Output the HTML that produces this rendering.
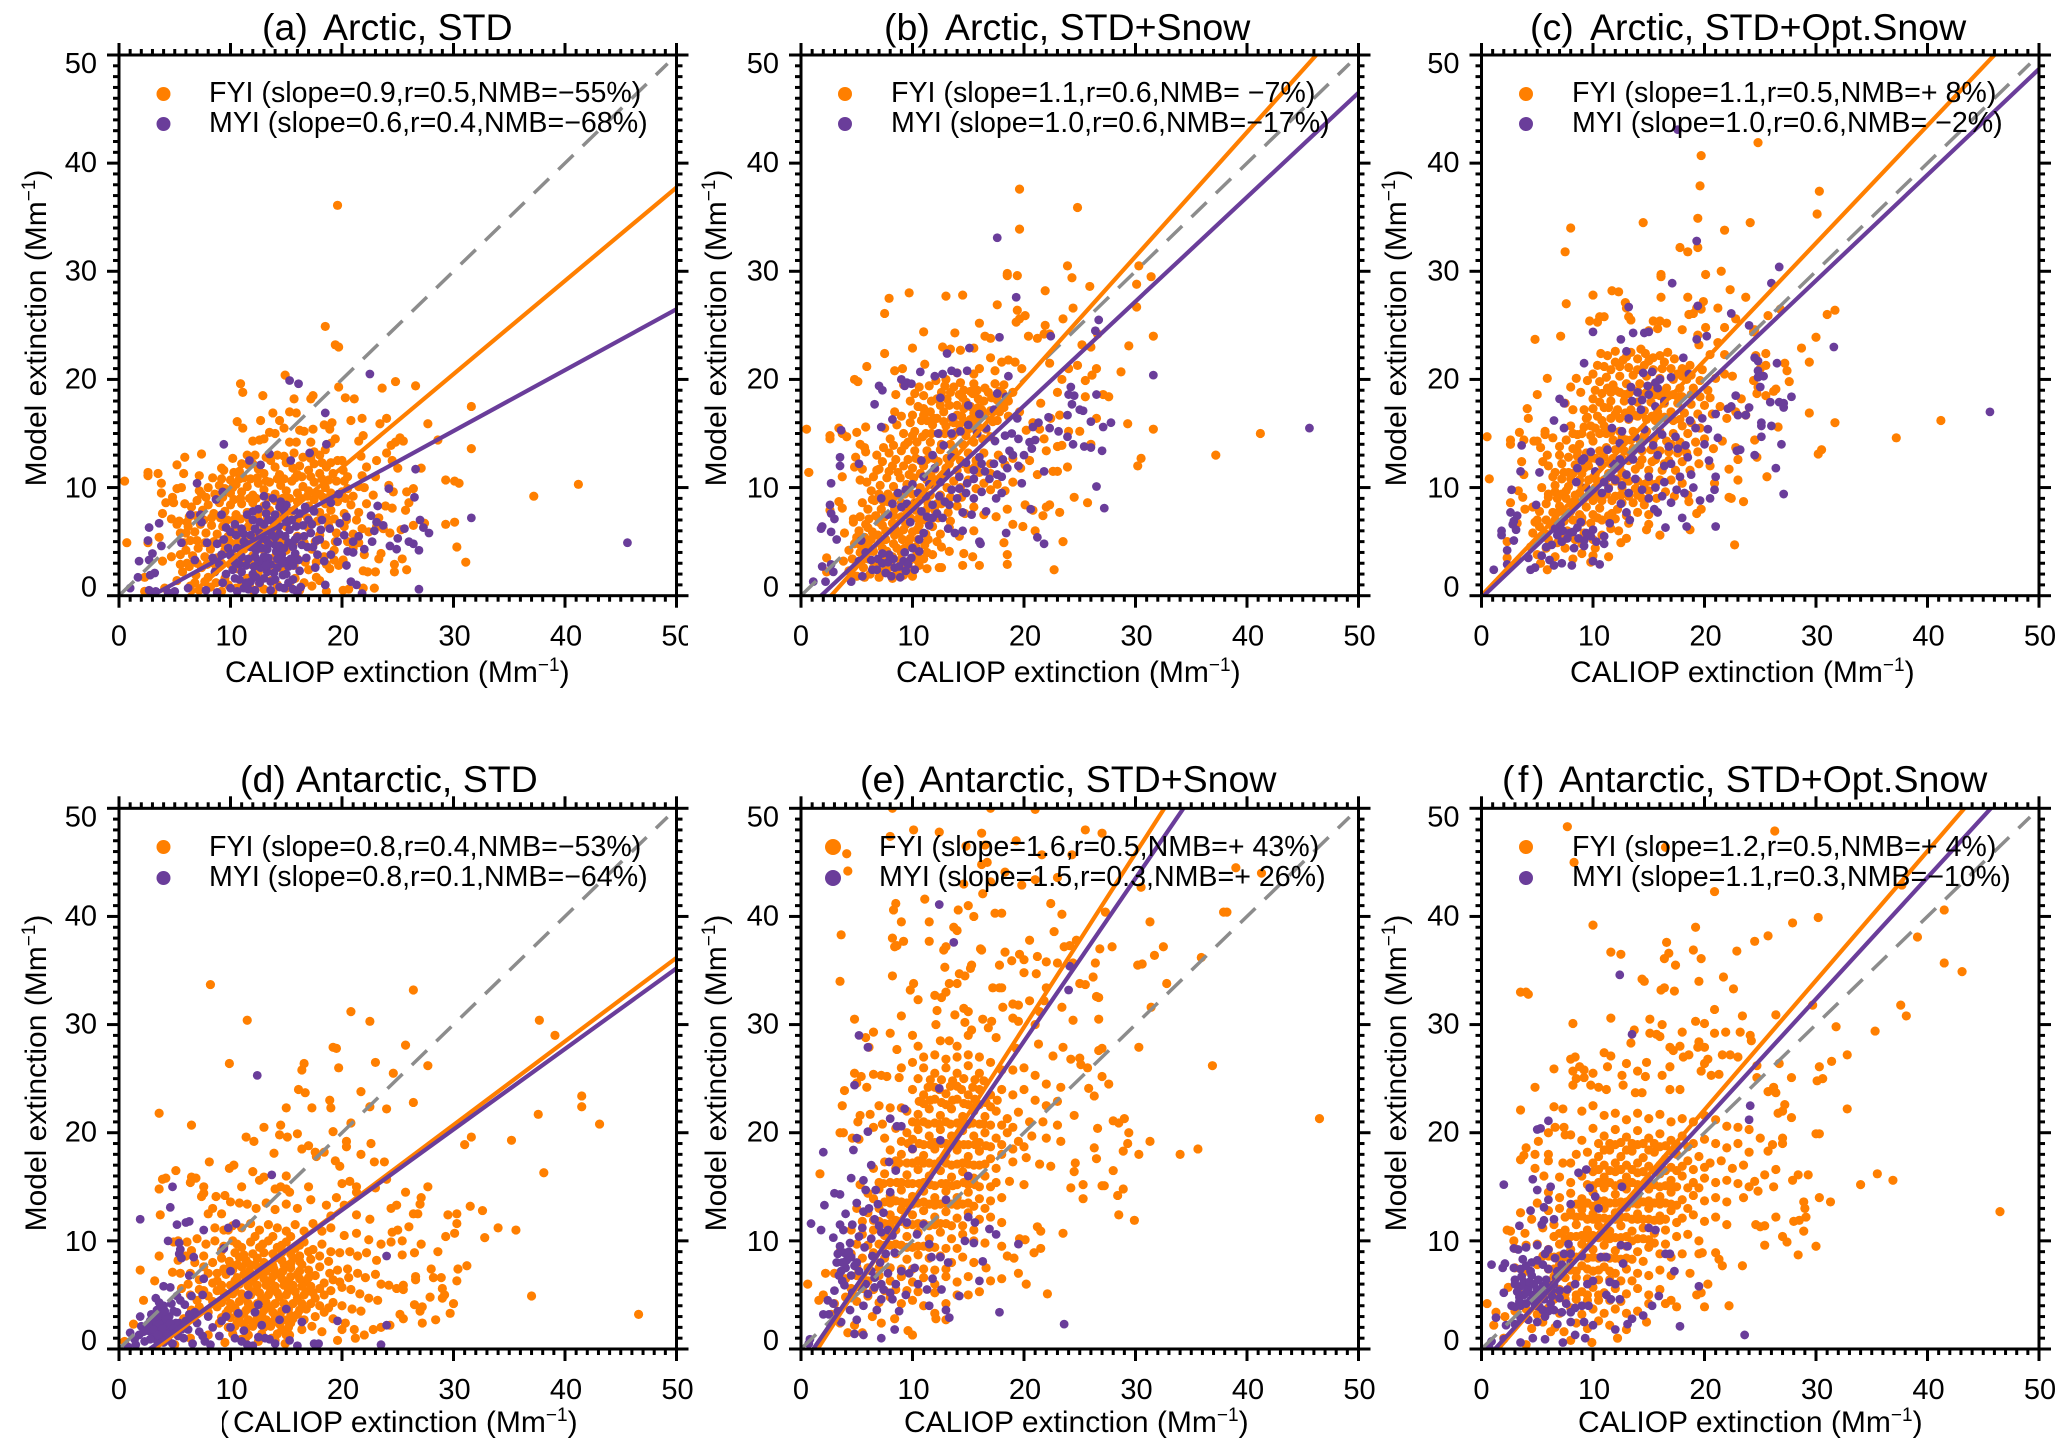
<!DOCTYPE html>
<html lang="en">
<head>
<meta charset="utf-8">
<title>Model vs CALIOP extinction scatter panels</title>
<style>
html,body{margin:0;padding:0;background:#fff;}
svg{display:block;font-family:"Liberation Sans",Arial,sans-serif;fill:#000;}
.title{font-size:37.5px;}
.leg{font-size:28.6px;}
.axl{font-size:30px;}
.sup{font-size:19px;}
.tick{font-size:29px;}
</style>
</head>
<body>
<svg id="figure" xmlns="http://www.w3.org/2000/svg" width="2067" height="1451" viewBox="0 0 2067 1451">
<rect x="0" y="0" width="2067" height="1451" fill="#fff"/>
<defs id="clips"></defs>
<g id="panel-a"></g>
<g id="panel-b"></g>
<g id="panel-c"></g>
<g id="panel-d"></g>
<g id="panel-e"></g>
<g id="panel-f"></g>

<g id="labels">
<text class="title" y="40"><tspan x="262">(a)</tspan><tspan x="323">Arctic, STD</tspan></text>
<text class="title" y="40"><tspan x="884">(b)</tspan><tspan x="945">Arctic, STD+Snow</tspan></text>
<text class="title" y="40"><tspan x="1530">(c)</tspan><tspan x="1590">Arctic, STD+Opt.Snow</tspan></text>
<text class="title" y="792"><tspan x="240">(d)</tspan><tspan x="296">Antarctic, STD</tspan></text>
<text class="title" y="792"><tspan x="860">(e)</tspan><tspan x="919">Antarctic, STD+Snow</tspan></text>
<text class="title" y="792"><tspan x="1502">(</tspan><tspan x="1518">f</tspan><tspan x="1532">)</tspan><tspan x="1559">Antarctic, STD+Opt.Snow</tspan></text>

<text class="axl" x="225" y="682">CALIOP extinction (Mm<tspan class="sup" dy="-11">−1</tspan><tspan dy="11">)</tspan></text>
<text class="axl" x="896" y="682">CALIOP extinction (Mm<tspan class="sup" dy="-11">−1</tspan><tspan dy="11">)</tspan></text>
<text class="axl" x="1570" y="682">CALIOP extinction (Mm<tspan class="sup" dy="-11">−1</tspan><tspan dy="11">)</tspan></text>
<text class="axl" x="219" y="1432" clip-path="url(#stray)">(</text>
<text class="axl" x="233" y="1432">CALIOP extinction (Mm<tspan class="sup" dy="-11">−1</tspan><tspan dy="11">)</tspan></text>
<text class="axl" x="904" y="1432">CALIOP extinction (Mm<tspan class="sup" dy="-11">−1</tspan><tspan dy="11">)</tspan></text>
<text class="axl" x="1578" y="1432">CALIOP extinction (Mm<tspan class="sup" dy="-11">−1</tspan><tspan dy="11">)</tspan></text>

<text class="axl" text-anchor="middle" transform="translate(46,328) rotate(-90)">Model extinction (Mm<tspan class="sup" dy="-11">−1</tspan><tspan dy="11">)</tspan></text>
<text class="axl" text-anchor="middle" transform="translate(726,328) rotate(-90)">Model extinction (Mm<tspan class="sup" dy="-11">−1</tspan><tspan dy="11">)</tspan></text>
<text class="axl" text-anchor="middle" transform="translate(1406,328) rotate(-90)">Model extinction (Mm<tspan class="sup" dy="-11">−1</tspan><tspan dy="11">)</tspan></text>
<text class="axl" text-anchor="middle" transform="translate(46,1073) rotate(-90)">Model extinction (Mm<tspan class="sup" dy="-11">−1</tspan><tspan dy="11">)</tspan></text>
<text class="axl" text-anchor="middle" transform="translate(726,1073) rotate(-90)">Model extinction (Mm<tspan class="sup" dy="-11">−1</tspan><tspan dy="11">)</tspan></text>
<text class="axl" text-anchor="middle" transform="translate(1406,1073) rotate(-90)">Model extinction (Mm<tspan class="sup" dy="-11">−1</tspan><tspan dy="11">)</tspan></text>

<circle cx="163.5" cy="94" r="7" fill="#ff7f00"/>
<circle cx="163.5" cy="124" r="7" fill="#6a3d9a"/>
<text class="leg" x="209" y="102">FYI (slope=0.9,r=0.5,NMB=−55%)</text>
<text class="leg" x="209" y="132">MYI (slope=0.6,r=0.4,NMB=−68%)</text>

<circle cx="845" cy="94" r="7" fill="#ff7f00"/>
<circle cx="845" cy="124" r="7" fill="#6a3d9a"/>
<text class="leg" x="891" y="102">FYI (slope=1.1,r=0.6,NMB= −7%)</text>
<text class="leg" x="891" y="132">MYI (slope=1.0,r=0.6,NMB=−17%)</text>

<circle cx="1526" cy="94" r="7" fill="#ff7f00"/>
<circle cx="1526" cy="124" r="7" fill="#6a3d9a"/>
<text class="leg" x="1572" y="102">FYI (slope=1.1,r=0.5,NMB=+ 8%)</text>
<text class="leg" x="1572" y="132">MYI (slope=1.0,r=0.6,NMB= −2%)</text>

<circle cx="163.5" cy="847" r="7" fill="#ff7f00"/>
<circle cx="163.5" cy="878" r="7" fill="#6a3d9a"/>
<text class="leg" x="209" y="856">FYI (slope=0.8,r=0.4,NMB=−53%)</text>
<text class="leg" x="209" y="886">MYI (slope=0.8,r=0.1,NMB=−64%)</text>

<circle cx="833" cy="847" r="8" fill="#ff7f00"/>
<circle cx="833" cy="878" r="8" fill="#6a3d9a"/>
<text class="leg" x="879" y="856">FYI (slope=1.6,r=0.5,NMB=+ 43%)</text>
<text class="leg" x="879" y="886">MYI (slope=1.5,r=0.3,NMB=+ 26%)</text>

<circle cx="1526" cy="847" r="7" fill="#ff7f00"/>
<circle cx="1526" cy="878" r="7" fill="#6a3d9a"/>
<text class="leg" x="1572" y="856">FYI (slope=1.2,r=0.5,NMB=+ 4%)</text>
<text class="leg" x="1572" y="886">MYI (slope=1.1,r=0.3,NMB=−10%)</text>
</g>
</svg>
<script>
// ----- shared axis values -----
const majorTicks = [0, 10, 20, 30, 40, 50];
const tickLabels = ["0", "10", "20", "30", "40", "50"];
const minorTicks = [1,2,3,4,5,6,7,8,9,11,12,13,14,15,16,17,18,19,21,22,23,24,25,26,27,28,29,31,32,33,34,35,36,37,38,39,41,42,43,44,45,46,47,48,49];

// ----- regression fits (panels a..f) -----
const fyiSlopes = [0.863, 1.149, 1.087, 0.773, 1.608, 1.196];
const fyiIntercepts = [-5.4, -3.1, 0, -2.47, -2.4, -1.8];
const myiSlopes = [0.563, 0.965, 0.978, 0.745, 1.506, 1.124];
const myiIntercepts = [-1.66, -1.74, -0.2, -2.05, -1.66, -1.35];

// ----- scatter values [CALIOP, Model] -----
const fyiA = [[0.5,10.6],[0.7,4.9],[19.6,36.1],[18.5,24.9],[19.4,23.2],[19.7,23],[14.9,20.4],[24.8,19.8],[26.6,19.4],[10.9,19.6],[11.1,18.8],[12.9,18.5],[19.7,19.3],[21.1,18.2],[20.3,18.3],[23.6,19.2],[31.6,17.5],[31.6,13.6],[37.2,9.2],[41.2,10.3],[29.3,10.7],[30.1,10.6],[30.5,10.4],[29.3,6.6],[30.1,6.8],[30.3,4.5],[31.1,3.1],[28.6,14.4],[27.7,15.9],[25.2,14.6],[25.5,14.3],[24,16.4],[23.4,15.9],[21.8,16.4],[20.8,16.2],[10.6,16.1],[11.1,15.5],[12.7,16.2],[13.8,16.9],[15.3,17],[15.9,16.9],[15.7,18.2],[17.4,18.5],[17.2,18.2],[18.4,15.8],[19.1,16],[18.9,15.4],[17.4,15.4],[16.2,15.3],[14.4,16.2],[2.6,11.4],[2.6,11.1],[3.5,11.3],[5.2,12.1],[5.9,12.8],[7.4,13.1],[3.8,10.4],[5.8,11.3],[7.2,11.1],[3.8,9.5],[4.8,9.1],[4.9,8.6],[4.2,8.6],[3.9,7.6],[5.6,10],[5.2,9.9],[3.6,5.4],[2.6,4.9],[4.7,7.1],[5.2,6.6],[5.5,5.8],[5.4,6.9],[6.1,6.8],[3.9,3.2],[4.7,3.6],[5.5,3.8],[2.3,1.7],[2.3,0.4],[4.1,0.7],[5.2,1.4],[27.1,11.8],[26.4,9.9],[25.8,9.6],[24.6,9.6],[26,8.6],[25.7,7.9],[26.4,6.5],[27.4,6.7],[25.4,3.4],[24.7,2.9],[24.7,2.2],[25.8,2.4],[23.9,8.3],[24.5,8.1],[23.3,7.2],[23.7,6.2],[25.3,6.1],[24.3,5.8],[23.5,3.9],[23,2.2],[21.9,2.3],[22.3,2.2],[22.9,0.7],[21.9,0.7],[23.3,3.4],[20.1,0.5],[20.6,0.6],[24.2,10.2],[25,11.8],[24.5,12.5],[24,13.2],[24.4,13.9],[24.8,14.2],[23.1,12.5],[22.2,11.9],[21.7,12.9],[21.5,14.3],[21.9,14.8],[20,12.5],
[11.5,13],[12,14.3],[12.6,14.4],[13,14.5],[13.5,15.1],[14,15],[14.8,15.5],[15.3,14.2],[15.9,14.2],[16.6,15.2],[17.2,14.2],[17.5,13.3],[18,13],[18.5,13.5],[19,14.1],[19.4,14.5],[9.2,11.8],[9.4,11.6],[10,10.7],[10.3,11.4],[10.8,11.5],[11.2,10.9],[11.6,12.1],[12,12.2],[12.5,11.7],[13,11.3],[13.6,12.5],[14,11.9],[14.4,11.2],[15,12.3],[15.6,11.8],[16,11.2],[16.5,12.8],[17,11.6],[17.5,12.2],[18,11.3],[18.6,11.9],[19,12.3],[19.6,12.5],[20.1,11.6],[20.5,11],[21.8,11.1],[23,11],[8,10],[8.6,9.4],[9,10.2],[9.5,9.9],[10,9.5],[10.5,10.3],[11,9.6],[11.5,10.1],[12,9.3],[12.5,10.4],[13,9.8],[13.5,10.5],[14,9.4],[14.5,10.2],[15,9.7],[15.5,10.6],[16,9.5],[16.5,10.1],[17,9.7],[17.5,10.5],[18,9.4],[18.5,10],[19,9.5],[19.5,10.6],[20,9.6],[20.5,9.9],[21,9.2],[21.5,10.1],[22,10],[22.8,9.3],[6.5,8.2],[7,8.8],[7.5,7.9],[8,8.4],[8.5,7.6],[9,8.6],[9.5,7.8],[10,8.4],[10.5,7.5],[11,8.5],[11.5,7.7],[12,8.6],[12.5,7.6],[13,8.3],[13.5,7.9],[14,8.8],[14.5,7.5],[15,8.4],[15.5,7.8],[16,8.7],[16.5,7.6],[17,8.3],[17.5,8.9],[18,7.7],[18.5,8.5],[19,7.9],[19.6,8.7],[20.2,7.6],[20.8,8.4],[21.5,7.7],[22.2,8.5],[6.2,6.4],[6.8,5.9],[7.3,6.6],[7.8,5.8],[8.3,6.5],[8.8,5.7],[9.3,6.4],[9.8,5.5],[10.4,6.3],[11,5.8],[11.6,6.4],[12.2,5.6],[13,6.4],[14,5.7],[15,6.4],[16,5.5],[17,6.3],[18,5.6],[18.8,6.5],[19.5,5.8],[20.2,6.4],[21,5.7],[21.8,6.2],[22.4,5.9],[23.1,6.4],[6,4.2],[6.6,3.7],[7.1,4.4],[7.7,3.6],[8.2,4.3],[8.8,3.5],[9.5,4.2],[10.3,3.6],[11.2,4.3],[12,3.7],[13,4.2],[14,3.6],[15,4.2],[16,3.4],[17.3,4.3],[18.4,3.6],[19.3,4.2],[20.1,3.3],[21,4.4],[22,3.8],[5.7,2.2],[6.3,2.7],[6.9,1.9],[7.4,2.6],[8,1.7],[8.7,2.4],[9.5,1.6],[10.6,2.5],[11.5,1.6],[12.5,2.2],[13.6,1.4],[14.7,2.4],[15.8,1.6],[17,2.4],[18,1.4],[18.9,2.5],[19.7,2.8],[6.4,0.9],[7.2,0.5],[8.2,0.8],[9.2,0.4],[10.5,0.7],[11.7,0.9],[12.6,1.1],[13.8,0.4],[15,0.7],[16.2,0.5],[17.3,0.9],[18.6,0.4]];
const fyiCoreA = [[10.2,12.7],[11,12.2],[12.2,13],[13.2,12.8],[14.2,13],[14.8,12.9],[15.7,13.2],[16.2,12],[17.2,12.7],[18.2,12.3],[19.2,11.3],[8.4,10.9],[9.2,10.8],[10.2,10],[10.8,10.8],[11.8,10.8],[12.4,10.9],[13.2,10.6],[14.2,10.8],[14.8,10.8],[15.8,10.9],[16.4,11],[17.2,11],[18.2,10.8],[18.8,10.7],[20.2,10.6],[7.2,9.7],[7.8,9.1],[9.3,9.1],[10.3,8.9],[10.9,9],[11.7,9],[12.3,9],[13.3,9.1],[13.9,9.1],[14.7,9],[15.3,9],[16.3,9],[16.9,9.2],[17.7,9.4],[18.3,9.1],[18.9,8.8],[19.5,9.2],[20.3,9],[6.9,7.4],[7.6,7],[8.3,7.2],[9.1,7.2],[9.7,7],[10.3,7],[10.9,7.1],[11.7,7],[12.5,7],[13.3,7.1],[14.2,7],[15,7.1],[16,7.1],[16.9,7.2],[17.8,6.9],[18.6,7.2],[19.3,7.1],[20.4,7],[21.3,7],[6.4,5.1],[7,5.1],[7.7,4.9],[8.5,5],[9.2,4.9],[10,4.9],[10.7,5],[11.5,5],[12.6,4.9],[13.5,5],[14.6,5],[15.6,4.8],[16.6,4.9],[17.6,5],[18.5,4.7],[19.4,5],[20.5,5],[21.5,4.9],[6.1,3],[7,3],[7.9,2.9],[8.5,3],[9.2,3],[10,2.9],[11,3],[11.8,2.9],[12.8,3],[13.8,2.8],[14.8,3.2],[15.7,2.8],[16.7,3.1],[17.7,3.1],[18.6,2.9],[19.3,3.3],[6.8,1.2],[7.7,1.3],[8.7,1.2],[9.8,1],[11,1.3],[12,0.5],[13,0.6],[14.2,1],[15.3,1.2],[16.6,1.2],[17.7,1.7],[5.5,2.9],[5.8,4.9],[6,5.8],[6.3,7.3],[5.9,8.5],[7.4,9.4],[8.9,9.3]];
const myiA = [[45.6,4.9],[31.6,7.2],[26.9,0.6],[22.5,20.5],[15.3,19.9],[16.1,19.6],[18.5,16.9],[9.4,14],[18.6,14],[13.5,13.1],[11.7,12.5],[15.4,12.5],[12.7,12.1],[17.1,13.2],[26.6,11.7],[26.5,9.1],[24.2,9.9],[7,10.4],[9.3,9.6],[8.7,8.9],[6.4,7.5],[7.3,7.5],[2.7,6.3],[3.6,6.7],[7.4,6.8],[2.6,5.1],[3,3.9],[3.8,4.6],[1.8,3.2],[2.7,3.3],[3.2,2.1],[2.8,1.9],[1.7,1.7],[1,0.7],[5.6,4.9],[6.8,3.3],[7.9,4.9],[27,7],[27.3,6.3],[27.8,5.8],[26.4,4.8],[26,5],[25.6,6.2],[26.9,4.2],[24.9,4.3],[24.3,4.6],[25,5.3],[23.2,8.3],[22.6,7.4],[23.1,6.8],[23.7,6.5],[22.9,6],[22.7,5],[21.5,5.5],[21,5],[20.5,4.1],[22,4.3],[20.4,2.8],[20.8,1.3],[21.3,1],[21.8,0.2],[21,4],[19.8,6.7],[20.4,7.3],[19,8.6],[19.7,9.4],[17.5,7.8],[18.2,7],[18.9,6.2],[18,5.2],[17.2,5.8],[16.5,6.5],[16,5.4],[15.5,7],[15,8.4],[14.5,8.7],[14,7.5],[13.8,9],[13,9.2],[12.5,8],[12,7],[11.5,7.5],[11,6.2],[10.5,5.6],[10,5.9],[9.4,5.2],[8.8,4.8],[8.4,3.5],[9,2.9],[9.6,2],[9.3,1.2],[10,0.7],[10.8,1.5],[11.4,2.8],[12,2],[12.6,1.2],[13.3,2.2],[14,1.5],[13.6,0.5],[14.8,0.7],[15.6,1.5],[16,0.3],[16.3,0.8],[15.2,2.7],[16.8,3.5],[17.6,2.6],[18.5,1],[19,3.8],[12.2,3.6],[12.8,4.4],[13.4,3.5],[14,4.7],[14.6,3.8],[15.2,4.9],[15.8,3.9],[13.2,5.2],[12.6,5.8],[13.6,6.1],[14.4,5.7],[15.3,6.1],[11.8,4.5],[11,3.6],[10.4,3.1],[6.2,0.7],[5,0.4],[4.4,0.3],[3.3,0.4],[2.7,0.5],[7.8,0.5],[8.8,0.3],[11.6,0.6]];
const myiCoreA = [[10.4,1.6],[11.2,0.7],[11,2.2],[11.8,1.3],[12.2,0.5],[12.7,2.6],[13.6,2.9],[14.2,2.6],[14.7,1.9],[15.2,1.2],[10,3.7],[10.6,4.4],[11.4,4.8],[12.4,4.8],[13.3,4.3],[14.2,3.4],[14.9,3.2],[15.6,2.8],[16.2,2.3],[16.4,4.7],[15.8,5.2],[14.9,5.5],[14,5.4],[13,6.6],[12.2,6.2],[11.8,5.6],[11.2,5],[12,7.8],[13.2,7.6],[13.8,6.9],[14.8,7.2],[16.2,7.6],[17,7],[17.4,4.5],[17.8,3.8],[18.4,3.2],[9.8,4.4],[9.2,3.8],[8.6,2.2],[10.2,2.4],[12.9,3],[14.4,0.8],[19.6,5],[20.2,5.6]];
const myiFillA = [[12.3,4.2],[12.6,5.2],[13,3.6],[13.4,4.8],[13.7,5.6],[14.1,4.1],[14.4,4.6],[14.8,4.4],[15.4,3.4],[15.6,4.5],[16.1,3.3],[12.1,2.7],[12.5,3.2],[13.2,2.8],[13.9,2.1],[14.6,3],[15,2],[11.6,3.4],[10.8,2.9],[11.2,5.7],[12.6,6.8],[13.4,7],[14.3,6.4],[15.1,6.8],[15.9,6.4],[16.6,5.5],[17.3,6.6],[18.1,6.1],[17.7,5.1],[16.9,4.5],[12.3,1.7],[13,1.6],[13.6,1.3],[11.4,1.2],[10.6,0.4],[15.6,0.6],[14.8,7.9],[15.7,7.9],[13.2,8.4],[14.4,8.2],[16.7,8.2],[10.4,6.6],[9.6,6.3],[9.2,7.5]];

const fyiB = [[0.5,15.4],[0.7,11.4],[19.6,37.6],[19.6,33.9],[24.8,35.9],[23.9,30.5],[24.3,29.4],[30.3,30.5],[31.4,29.5],[30.1,28.8],[30.1,26.7],[25.9,28.6],[18.5,29.8],[18.5,29.6],[19.4,29.6],[21.9,28.2],[9.7,28],[7.9,27.5],[7.5,26.1],[13,27.7],[14.5,27.8],[17.6,26.9],[19.4,26.4],[19.6,25.6],[20.1,25.9],[19.3,25.3],[24.4,26.6],[23.5,25.6],[21.9,25],[16,25.2],[11,24.4],[13.8,24.3],[16.5,24],[17,23.8],[20.4,24],[21.8,24.2],[22.3,24.2],[21.2,23.8],[25.2,23.2],[26,23],[26.6,24.2],[29.4,23.1],[31.6,24],[7.5,22.4],[9.1,21],[5.9,21.2],[4.8,20],[5.1,19.8],[8.4,20.8],[10,22.9],[11.1,21.4],[12.7,23],[13.4,22.8],[14.3,22.7],[15.5,22.9],[28.7,20.7],[26.5,21],[26.1,20.4],[25.5,19.9],[29.3,15.9],[31.6,15.4],[27.1,18.6],[27.6,18.4],[26.5,16.4],[25.5,18.4],[37.2,13],[41.2,15],[30.5,12.7],[30.2,12],[26,14],[23.9,11.9],[23,11.5],[22.6,11.5],[22,13.4],[23,13.8],[23.4,13.9],[21.8,14.5],[25,15.2],[24,15.2],[23.2,16.7],[22.4,16.4],[21.5,17.8],[23,18.8],[23.4,20],[22.3,21.5],[24.8,21.3],[24,21],[0.7,11.4],[3.4,15.5],[3.7,15],[4.1,14.7],[5,15.1],[5.8,15.6],[2.6,14.8],[2.6,14.5],[4.9,12.8],[5.3,14],[5.7,13.7],[5.8,13.3],[4.8,11.9],[5.5,11.7],[3.7,11],[5.3,10.7],[3.4,8.7],[3.7,8.1],[2.6,7.9],[3.9,5.8],[2.3,3.5],[2.3,2.2],[4.7,7.1],[5,5.2],[22.7,2.4],[23.5,5],[19.9,6.4],[19,6.6],[21.7,7.4],[22,8.2],[22.3,8.4],[23.2,7.7],[24.5,9.1],[25.7,8.6],[20.1,8.4],[20.8,7.9],[21,6],[18.2,4.9],[18.5,3.8],[18.5,2.9],[16,2.8],[14.5,2.8],[14.6,3.9],[15.4,3.6],[13.3,4.1],[12.4,2.6],[12.6,2.6],[11.3,4],[10.3,4.5],
[8.5,18.6],[9.2,19.5],[9.8,18],[10.5,17.5],[11,18.5],[11.6,17],[12.2,18.2],[12.8,17],[13.4,18.8],[14,17.6],[14.6,19],[15.2,17.5],[15.8,19],[16.4,18],[17,17.1],[17.6,18.1],[18,21.6],[18.6,21.8],[19.2,21.6],[19.8,21],[17,22],[17.4,20.8],[14,20.6],[15.5,20.5],[13,20],[16,21],[18.2,19.5],[19,18.8],[19.6,17],[20.2,15.3],[20.8,16],[21.4,15.4],[17.6,16.2],[18.2,17.4],[7.5,15.5],[8,14.5],[8.6,15.8],[9.2,15],[9.8,16],[10.2,15.2],[10.8,16.2],[11.2,15],[11.8,15.8],[12.4,15],[13,15.7],[13.6,14.8],[14.2,15.8],[14.8,14.8],[15.4,15.5],[16,16.6],[16.6,15.4],[17,14.7],[6.8,13],[7.3,12.4],[7.9,13.2],[8.5,12.6],[9,13.4],[9.6,12.6],[10.2,13.4],[10.7,12.5],[11.3,13.4],[11.9,12.7],[12.5,13.5],[13.1,12.7],[13.7,13.4],[14.3,12.5],[15,13.2],[15.7,12.5],[16.4,13.2],[17,12.2],[17.7,13],[18.3,12.1],[19,12.7],[19.7,11.8],[20.5,12.5],[21.2,11.2],[5.9,10.5],[6.5,11],[7.1,10.2],[7.7,10.9],[8.3,10.1],[8.9,10.9],[9.5,10.3],[10.1,10.9],[10.7,10],[11.3,10.7],[11.9,10.2],[12.5,10.9],[13.1,10],[13.7,10.6],[14.3,10],[15,10.7],[15.7,9.9],[16.4,10.4],[17,9.8],[17.6,10.3],[18.3,9.7],[19,10.5],[5.5,8.6],[6,8],[6.6,8.8],[7.2,8],[7.8,8.7],[8.4,8],[9,8.6],[9.6,7.9],[10.2,8.6],[10.8,7.7],[11.4,8.5],[12,7.9],[12.6,8.5],[13.2,7.7],[14,8.3],[14.7,7.6],[15.5,8.2],[16.4,7.5],[17.5,7.3],[18.5,8],[4.7,6.8],[5.2,6],[5.8,6.6],[6.4,5.9],[7,6.8],[7.6,6],[8.2,6.7],[8.8,5.8],[9.4,6.6],[10,5.9],[10.6,6.5],[11.2,5.7],[11.8,6.4],[12.5,5.7],[13.3,6.3],[14.2,5.5],[15.5,6],[4.3,4.2],[4.8,4.8],[5.3,4],[5.9,4.8],[6.5,4.1],[7.1,4.9],[7.7,4.1],[8.3,4.8],[9,4],[9.7,4.7],[10.4,3.9],[11.1,4.7],[11.8,3.8],[12.6,4.5],[4.3,2.3],[5,1.8],[5.6,2.6],[6.2,2],[6.8,2.6],[7.4,2.2],[8,3],[8.6,2.1],[9.3,2.9],[10,1.8],[10.6,2.8],[11.3,2.5]];
const fyiCoreB = [[10.2,18.7],[11,17.3],[11.3,16.2],[12.6,18.8],[13.1,18.2],[14.2,18.6],[14.8,17.9],[15.4,18.7],[16.2,17.2],[16.8,18.8],[17.4,19.6],[18.1,18.7],[15.5,19.6],[14.3,19.7],[13.5,16.4],[12.2,16.4],[14.4,16.6],[15.2,16.3],[15.9,17.4],[17.2,16.1],[18.6,16.6],[10,16.7],[9,16.6],[8.4,17],[9.6,14.2],[10.4,14.2],[11.6,14.2],[12.6,14],[13.4,14],[14.5,14],[15.5,14.2],[16.3,14.5],[7.4,13.7],[8.2,12],[9.2,12],[10,11.8],[11,12],[12,11.7],[13,11.8],[14,11.6],[15,11.7],[16,11.4],[17,11.3],[6.8,11.6],[6.3,9.7],[7,9.4],[7.8,9.4],[8.6,9.3],[9.3,9.4],[10,9.4],[10.9,9],[11.6,9.3],[12.5,9.3],[13.4,9.1],[14.4,9.1],[5.3,7.3],[6.1,7.1],[6.7,7.4],[7.5,7.3],[8.3,7.4],[9,7.3],[9.8,7.2],[10.5,7.1],[11.2,7],[12.3,7.2],[13.4,6.9],[5,5.4],[5.7,5.4],[6.3,5.2],[6.9,5.6],[7.6,5.2],[8.4,5.6],[9.1,5.2],[9.8,5.3],[10.5,5.2],[11.4,5.2],[12.2,5],[4.6,3.4],[5.4,3.2],[6,3.4],[6.7,3.2],[7.4,3.5],[8.2,3.6],[8.9,3.3],[9.7,3.2],[10.4,3.3],[11,3.4],[3.8,3.2],[4.5,1.6],[5.7,1.7],[7,1.7],[8.2,1.6],[9.2,1.9],[9.9,2.4]];
const fyiFillB = [[10.6,19.3],[11.5,19.4],[12.1,19.9],[12.9,19.4],[13.7,19.3],[14.5,18.3],[15.2,18.9],[15.9,18.2],[16.5,19.2],[17.1,18.3],[17.8,18.9],[11.7,18],[12.5,17.6],[13.3,17.6],[14,16.7],[14.6,17.3],[15.5,16.9],[16.5,16.7],[17.8,17],[18.6,18],[11,16.7],[11.9,16.4],[12.8,16.1],[13.7,16],[14.7,16.1],[15.7,16.1],[10,14.8],[10.9,14.7],[11.7,15],[12.9,15],[13.9,15.1],[14.9,15.3],[15.9,15.6],[8.3,13.9],[9.3,13.9],[10.3,12.7],[11.3,12.6],[12.3,12.4],[13.3,12.2],[14.6,12.2],[15.6,11.9],[7,11.7],[7.9,11.5],[8.7,11.4],[9.7,11.2],[10.7,11.3],[11.7,11],[12.8,11.2],[6.4,8.9],[7.4,8.7],[8.2,8.9],[9.3,8.1],[10.3,7.9],[11.2,7.9],[12.2,8.5],[6,6.3],[7.3,6.5],[8.4,6.2],[9.2,6.1],[10.4,6.1],[5.4,4.6],[6.2,4.4],[7.3,4.4],[8.6,4.4],[9.3,4.4],[6.5,2.6],[7.8,2.5],[9,2.5]];
const myiB = [[45.6,15.5],[17.6,33.1],[19.3,27.6],[26.7,25.5],[26.4,24.5],[22.4,24],[17.8,23.9],[13.1,22.4],[15.1,22.9],[31.6,20.4],[13.5,20.8],[12.7,20.5],[14,20.6],[14.9,20.8],[10.7,20.7],[12,20.3],[9,20],[9.5,19.7],[9.3,19.4],[9.9,19.6],[7,19.4],[7.3,19],[6.6,17.7],[12.5,18.3],[18.6,20.3],[24.2,19.3],[24,18.6],[24.5,18.5],[24.3,17.7],[25,17.2],[26.5,18.6],[25.3,17.1],[26,16.1],[27.8,16],[27.1,15.6],[23.9,16.7],[22.2,16.5],[21.3,16],[20.8,15.6],[3.6,15.3],[8.2,16.3],[7.2,15.6],[18.4,18.4],[17.6,18.7],[19.4,16.4],[18.9,15],[20.5,14.2],[21,14.4],[22.3,15.5],[23.1,15.2],[24.4,14],[23.9,14.7],[25.4,13.8],[26,13.7],[27,13.4],[3.5,12.8],[3.5,12],[5.2,12.2],[2.7,10.4],[26.5,10.1],[27.2,8.1],[20.6,8],[21.8,11.5],[19,13],[19.5,12],[18.5,11.8],[18,11],[17.3,12.2],[16.5,11.5],[16,12.8],[15.5,10.8],[14.8,12.3],[14.2,11],[13.5,12.8],[13,11.5],[12.5,10.5],[12,11.8],[11.5,10.3],[11,11],[10.5,9.5],[10,10.3],[9.5,8.5],[9,8.2],[8.7,9.5],[8.2,8.5],[7.8,7.5],[7.2,9],[2.6,8.4],[2.7,7.6],[3,7.1],[1.9,6.4],[1.8,6.2],[2.7,5.9],[3.2,5.2],[1.9,2.7],[2.7,2.9],[1.1,1.3],[2.2,1.3],[2.9,2.2],[4.5,1.3],[5.5,1.8],[5.8,4],[6.3,3.3],[6.8,2.4],[7.3,3],[7.6,2.1],[7.9,3.8],[8.4,2.6],[8.1,1.8],[8.9,1.7],[9.4,2.3],[9.3,4],[9.9,3.5],[10.2,2.4],[10.6,5.2],[11,5.8],[11.5,6.5],[12.2,7.6],[13.2,6.2],[13.8,5.8],[14.5,6],[15.3,7.5],[16,5],[16.1,4.8],[16.6,7.8],[17.5,9],[18,9.5],[19.8,10.4],[18.4,5.8],[21.2,5.4],[21.8,4.8],[13.3,8.4],[14,9],[14.8,9.5],[15.5,9],[16.2,9.6],[11.8,8.4],[10.8,7.8],[9.8,6.8],[5.2,3.2],[5.4,5.1]];
const myiCoreB = [[6.4,2.4],[6.9,3.4],[7.3,3.9],[7.8,3.1],[8.3,3.4],[8.8,2.7],[9.2,3.2],[9.6,2.9],[10,4.4],[10.6,4.1],[11.3,7.3],[11.8,7.2],[12.4,9.2],[12.9,8.7],[13.5,9.8],[14.2,9.9],[14.9,10.4],[15.5,11.6],[16.2,12.2],[16.9,10.8],[17.6,11.2],[18.1,12.6],[18.7,13.4],[19.5,14.5],[20,13],[20.7,13.6],[18.3,14.8],[17.4,14.3],[16.6,15.5],[15.8,15],[15,15.8],[14.3,15.2],[13.5,15],[12.8,13.9],[11.8,13],[10.8,12.5],[15,17.6],[16,16.8],[17.3,17.2],[13.6,16.5],[12.3,15],[10.4,8.6],[9.4,9.8],[11.2,9.2],[12.7,7.2],[14.5,7.7]];
const myiFillB = [];

const fyiC = [[0.5,14.7],[0.7,10.8],[24.8,41.9],[19.7,40.7],[19.6,37.9],[30.3,37.4],[30.1,35.3],[24.1,34.5],[14.5,34.5],[19.4,34.9],[8,34],[7.5,31.8],[17.8,32.2],[18.5,31.8],[19.4,32.2],[21.8,33.8],[20.1,29.7],[21.5,30],[16.1,29.7],[16.1,29.5],[12.3,28.1],[11.7,28.2],[10,27.8],[7.6,27],[12.9,27.1],[13,26.6],[16.1,27.6],[18.5,27.6],[19.7,26.5],[19.9,27.2],[19.3,26.6],[22.3,28.3],[23.7,27.6],[21.2,26.6],[18.6,26],[19,26.1],[22.8,25.6],[25.7,25.9],[26.8,26.5],[31,26],[31.7,26.4],[10.6,25.8],[11,25.8],[9.7,25.4],[10.4,25.3],[13.2,25.8],[13.4,25.5],[15.4,25.4],[16,25.4],[16.6,25.2],[20.1,24.8],[21.8,24.8],[24.4,24.4],[24.5,24.6],[7.1,24],[4.8,23.7],[15,24.5],[15.8,24.7],[18,24.6],[19.4,24.1],[30,23.9],[28.7,22.9],[29.4,21.6],[27.2,21.5],[27.4,20.8],[27.6,19.8],[25.5,22.4],[24.6,22.2],[25.5,21.3],[25,21],[5.9,20.1],[5,18.6],[4.1,17.3],[4.2,16.4],[8,19.3],[8.5,20.1],[31.7,16],[29.4,16.9],[37.2,14.6],[41.2,16.2],[30.5,13.5],[30.2,13.1],[26.4,19.1],[26.6,15.6],[26.2,18.9],[25.5,18.5],[24.7,18.7],[24.4,19.9],[24.8,19.3],[3.4,15.1],[3.8,14.4],[2.6,14.4],[2.6,14],[5,14.3],[4.7,14.3],[5.7,15.2],[5.7,14.9],[5.3,13.7],[5.9,13],[5.5,12.4],[3.6,12.4],[3.8,11.2],[2.6,8.6],[3.3,9.7],[3.7,9.1],[2.3,5],[2.3,3.5],[3.2,6.7],[3.9,8],[4.8,6.8],[4.4,4.5],[5.3,3],[5.9,2.4],[25.6,11],[24.5,14.4],[24.7,12.8],[23.7,16.7],[23.5,8.7],[22.7,4.7],[22.8,13.7],[23,12.6],[22.4,9],[22.2,9.1],[22.2,11.7],[23,10.7],[20.9,10.4],[19.7,8],[19.3,7.6],[18.7,6.1],[18.5,9.3],[18.6,8.7],[16,5.6],[14.8,6.1],[15,6.6],[13,5.3],[12.5,4.9],[11.4,3.6],[10,3.7],
[7.5,17.8],[8.2,17.2],[8.9,18.8],[9.5,19.9],[10,20.5],[10.7,22.4],[11.3,22.2],[12,22.6],[12.7,21.8],[13.4,22.5],[14,21.9],[14.7,22.4],[15.4,22],[16,22.2],[16.7,22.5],[17.3,21.9],[18,21],[18.7,21.3],[19.5,23.2],[20.5,22.3],[21.2,23.4],[21.8,22.3],[9.5,16.5],[10,18.2],[10.6,19.8],[11.2,20.2],[11.8,19.5],[12.4,20.3],[13,19.6],[13.6,20.4],[14.2,19.6],[14.8,20.3],[15.4,19.4],[16,20.1],[16.6,19.2],[17.2,20],[17.8,19.2],[18.4,20],[19,19.2],[19.6,19.9],[20.3,19],[21,20.1],[21.8,20.5],[22.5,20.3],[8,15.7],[8.6,14.9],[9.2,15.6],[9.8,14.8],[10.4,16.6],[11,17.4],[11.6,18],[12.2,17.2],[12.8,18],[13.4,17.2],[14,17.9],[14.6,17.1],[15.2,17.9],[15.8,17],[16.4,17.8],[17,17],[17.6,17.8],[18.2,16.9],[18.8,17.7],[19.4,16.8],[20,17.6],[20.7,16.8],[21.4,17.5],[22,16.4],[22.8,17],[23.3,18.2],[6.4,14.6],[7,13.8],[7.6,14.4],[8.2,13.6],[8.8,14],[9.4,13.2],[10,14.3],[10.6,13.4],[11.2,15],[11.8,14.4],[12.4,15.2],[13,14.4],[13.6,15.2],[14.2,14.4],[14.8,15.2],[15.4,14.4],[16,15.2],[16.6,14.3],[17.2,15],[17.8,14.2],[18.5,15],[19.2,14.2],[20,14.5],[20.8,13.6],[21.6,14.3],[6,12],[6.6,11.4],[7.2,12.2],[7.8,11.4],[8.4,12.1],[9,11.3],[9.6,12],[10.2,11.2],[10.8,12.1],[11.4,11.3],[12,12.2],[12.6,11.4],[13.2,12.5],[13.8,11.7],[14.4,12.6],[15,11.6],[15.6,12.6],[16.2,11.6],[16.8,12.5],[17.4,11.6],[18,12.4],[18.7,11.6],[19.5,12.2],[20.5,12],[5.4,10],[6,9.4],[6.6,10.2],[7.2,9.4],[7.8,10.1],[8.4,9.3],[9,10],[9.6,9.3],[10.2,10],[10.8,9.2],[11.4,10],[12,9.2],[12.6,10],[13.2,9.2],[13.8,9.9],[14.4,9],[15,9.7],[15.7,9],[16.5,9.6],[17.3,9.2],[4.6,8.2],[5.2,7.8],[5.8,8.5],[6.4,7.7],[7,8.3],[7.6,7.6],[8.2,8.3],[8.8,7.5],[9.4,8.2],[10,7.5],[10.6,8.1],[11.4,7.4],[12.2,8],[13,7.4],[14,7.7],[15,7.5],[4.6,5.8],[5.2,6.4],[5.8,5.7],[6.4,6.3],[7,5.4],[7.7,6],[8.4,5.2],[9.2,5.8],[10,5.2],[10.8,5.6],[11.6,6.2],[12.3,6],[5,3.8],[5.8,4.4],[6.6,3.6],[7.5,4.4],[8.2,3.4],[9,3.9],[9.8,3.1]];
const fyiCoreC = [[11,21.2],[11.6,20.9],[12.4,21.2],[13.2,21.1],[14,20.9],[14.6,21.3],[15.4,20.9],[16.2,21],[17,21],[18,20.3],[18.8,20.4],[19.8,20.9],[10.2,19],[10.8,18.7],[11.6,18.8],[12.4,18.8],[13.2,18.7],[14,18.9],[14.8,18.8],[15.6,18.6],[16.4,18.8],[17.2,18.6],[18,18.4],[18.8,18.6],[19.6,18.4],[20.5,18.3],[9.2,17.2],[10,17.3],[10.8,16.2],[11.6,16.4],[12.4,16.4],[13.2,16.3],[14,16.6],[14.8,16.3],[15.6,16.2],[16.4,16.5],[17.2,16.2],[18,15.7],[18.8,16],[19.6,15.5],[8.2,15],[9,15],[9.8,15.7],[10.6,15],[11.2,13.7],[12,13.5],[12.8,13.4],[13.6,13.6],[14.4,13.4],[15.2,13.5],[16,13.4],[16.8,13.3],[17.6,13.2],[18.4,13.2],[19.4,13.3],[7,13],[7.8,12.8],[8.6,12.9],[9.4,12.7],[10.2,12.7],[11,12.8],[11.8,12.7],[12.6,12.7],[6.4,11],[7.2,10.8],[8,10.8],[8.8,10.7],[9.6,10.7],[10.4,10.6],[11.2,10.8],[12,10.6],[13,10.8],[14,10.6],[15,10.6],[16,10.7],[17,10.7],[18,10.4],[6,9.1],[6.8,9],[7.6,9],[8.4,8.8],[9.2,9],[10,8.8],[10.8,8.8],[11.7,8.8],[12.6,8.6],[13.6,8.6],[14.6,8.4],[5,7],[5.8,7],[6.6,7],[7.4,6.9],[8.2,7],[9,6.8],[9.8,6.7],[10.8,7],[12,7.1],[13.2,6.7],[6,5.2],[6.8,4.9],[7.6,5.3],[9,4.8],[10.2,4.4]];
const fyiFillC = [[10.4,21.3],[12,21.6],[13,22.1],[14.3,22.8],[15,21.7],[16.4,21.6],[17.6,20.5],[18.4,20.6],[11.3,19.2],[12,19],[12.8,18.6],[13.6,19],[14.4,18.6],[15.2,18.9],[16,18.5],[16.8,18.5],[17.6,18.4],[10.6,17.9],[11.4,17.4],[12,16.8],[12.9,16.9],[13.7,16.7],[14.4,16.8],[15.3,16.6],[16,16.4],[16.9,16.4],[17.8,16.3],[9.4,16.4],[10.2,15.5],[11,15.7],[11.6,15.1],[12.6,14.6],[13.4,14.4],[14.6,14.8],[15.7,14.8],[17,14],[18,13.6],[8.6,13.3],[9.8,12.7],[10.7,12.6],[11.6,12.2],[12.4,12],[13.4,13],[14.2,12.1],[15.3,12.4],[16.4,12.2],[7.4,11.4],[8.2,11.3],[9.2,11.8],[10,10.9],[11,10.7],[12.2,10.8],[13.2,10.6],[14.6,10.3],[15.6,10.3],[6.6,9.6],[7.6,9.7],[8.8,9.5],[10.4,9.3],[11.2,9.4],[12.5,9.3],[14,9.3],[7,7.8],[8,7.8],[9,7.2],[10.4,7.2],[11.7,7.6]];
const myiC = [[45.6,17],[17.6,43.1],[19.3,32.8],[26.7,30.4],[26,28.9],[17.1,28.9],[19.4,26.8],[13.2,26.7],[22.4,26.1],[24,25],[10,24.4],[13.6,24.3],[14.6,24.3],[15,24.4],[12.5,23.7],[19.3,23.7],[20.2,24],[31.6,23],[24.5,22],[24.8,21.7],[26.5,21.5],[13,22.6],[9.2,21.5],[24.8,20.8],[24.8,20.2],[25.3,20.3],[25,19.3],[7,18.2],[7.4,17.8],[26.7,17.9],[25.9,17.9],[27.1,17.8],[27.1,17.4],[27.8,18.4],[24,17.4],[23,16.7],[23.7,16.7],[22.4,17.5],[22.1,17.3],[22.8,18.5],[25.1,16],[25.1,15.7],[26,15.7],[25.1,14.7],[26.9,14],[24.5,13],[26.4,11.8],[27.1,9.4],[21,6.4],[23.2,13.5],[22.9,13.4],[3.6,13.9],[6.5,16.2],[7.4,15.5],[3.5,11.5],[5.2,11.4],[2.7,9.8],[4.9,8.4],[2.6,7.7],[3.2,7.4],[2.9,6.9],[2.8,6.6],[3.1,6.1],[1.8,6],[1.8,5.6],[2.9,5.1],[2.3,4.2],[1.1,2.4],[2.3,2.9],[4.4,2.4],[4.8,2.6],[4.2,3.5],[5.4,3.7],[6.1,3.3],[5.8,4.5],[6.5,2.8],[7.2,3],[8.1,2.8],[8.3,4.4],[9.2,4.6],[10,3.2],[10.6,2.9],[6.6,6.2],[7.3,6],[7.9,5.8],[8.6,6.3],[9.4,5.8],[10,6.1],[11,5.5],[11.5,6.7],[12.5,8.5],[13,7.7],[13.3,7],[15.5,8],[15.8,7.7],[16.5,6.3],[18,7.2],[18.4,6.4],[19,10],[19.6,8.8],[20.5,9],[20.9,9.8],[21,11],[20.4,12.5],[20,14],[19.2,15.5],[18.7,16.2],[19.8,16.4],[20.3,15.4],[21,16.8],[21.2,14.6],[18.5,12.8],[17.8,11],[17,12.2],[16.4,10.5],[15.8,13],[15,11],[14.3,13.6],[13.6,12.6],[13,11.2],[12.4,12.6],[11.6,11],[11,10.5],[10.2,11.5],[9.4,10],[9,12.5],[8.5,10.5],[9.2,12.7],[11.3,13.5],[11.7,15.5],[12.6,15.2],[13.5,18],[14,18.8],[14.5,20.6],[15.3,20.7],[15.8,19.2],[14.9,19.4],[16.4,18],[15.6,17.5],[16,20],[17,20.2],[18.6,20.5],[18.1,22]];
const myiCoreC = [[6.8,5.6],[7.2,5],[7.7,5.3],[8.2,5.9],[8.7,5.3],[9.2,5.1],[9.8,5.5],[10.3,5],[11,4.8],[6.3,4.7],[7.1,6.6],[8.9,6.8],[10.8,9.5],[11.4,9.9],[12,10.7],[12.6,10.2],[13.2,9.5],[13.8,10.8],[14.4,9.8],[15,9],[15.6,10],[16.2,9.2],[17,8.6],[17.5,9.8],[18.2,9.5],[18.8,11.2],[18.3,13.9],[17.4,14.7],[16.8,13.8],[16.2,14.9],[15.4,13.9],[14.6,15.4],[13.8,14.7],[13.2,16.4],[12.4,14.1],[14.3,17.2],[15,18.6],[15.6,19.7],[14.4,18.1],[13.4,19.3],[11.8,12.2],[10.6,12.4],[8.6,11.8],[9.8,13.3],[16.4,12],[17.6,13.6]];

const fyiD = [[8.2,33.7],[26.4,33.2],[11.5,30.4],[20.8,31.2],[22.5,30.3],[37.7,30.4],[39.1,29],[19.2,27.9],[19.5,27.8],[25.7,28.1],[16.6,26.4],[16.4,25.8],[9.9,26.4],[23,26.5],[19.7,26],[27.7,26.2],[24.6,25.5],[16.1,24],[16.7,23.7],[21.7,23.8],[18.9,23],[15,22.3],[17.3,22.3],[19,22.3],[22.5,22.4],[26.4,22.8],[24,22.2],[3.6,21.8],[41.5,23.4],[41.5,22.4],[37.6,21.7],[43.1,20.8],[20.8,20.9],[13,20.5],[14.5,20.7],[6.5,20.7],[19.2,20.1],[14.4,19.8],[15.1,19.6],[16,19.9],[11.4,19.6],[12.1,19.2],[20.4,19.2],[20.4,18.7],[22.6,19],[35.2,19.3],[31.6,19.6],[31,18.9],[16.4,18.5],[17,18.8],[17.6,18.2],[17.7,17.8],[18.4,18.2],[21.7,18],[13.9,18.1],[19.4,17.4],[19.8,16.9],[8.1,17.3],[9.9,16.7],[10.3,17],[12,16.4],[22.9,17.3],[23.8,17.3],[5.1,16.5],[3.9,15.7],[4.2,15.8],[6.5,15.9],[6.9,15.8],[6.4,15.4],[13,15.9],[12.6,15.6],[15,16],[20,15.3],[20.7,15.5],[21.3,15],[21.3,14.5],[24,15.7],[23,14.9],[38.1,16.3],[27.7,15],[25.7,14.5],[3.6,14.8],[7.4,14.1],[7.6,14.4],[7.6,15],[8.7,14.1],[9.5,14.2],[11,15],[14,14.8],[14.5,15],[15,14.8],[15.3,14.5],[17,15],[19.5,14],[24.4,13],[24.9,13.3],[27.1,14],[27,13.4],[31.5,13.2],[32.6,12.8],[29.5,12.4],[30.3,12.5],[30.3,11.6],[34,11.2],[35.6,11],[26.8,12.5],[26.4,12.5],[26,11.3],[25,11],[24.5,10.8],[29.3,10.4],[30.1,10.7],[32.8,10.3],[27.1,9.7],[25.4,10],[26.5,8.9],[25.4,8.7],[28.6,9],[30.4,7.4],[31.2,7.7],[28,7.4],[30.3,6.3],[28.2,6.6],[28.9,6.6],[26.6,6.7],[26.6,6.4],[25.5,5.9],[24.9,5.6],[25.5,5.5],[29,5.6],[29.2,5],[23.5,6],[24.2,5.9],[37,4.9],[46.6,3.2],[27.9,4.8],[29,4.7],[30,4.2],[26.5,4.1],[27.2,3.9],[27,3.5],[27.2,2.4],[28.4,2.7],[29.7,3.3],[25.2,3.2],[25.5,2.8],[23.5,2],[24.3,2.2],[22.8,1.8],[22,1.3],[21.1,1.8],[20,1.8],[21.2,1],[19.6,0.8],[3.6,8.6],[1.9,7.3],[3.7,12.4],[4.9,9.9],[5.3,10],[6.1,9.9],[6.5,9.1],[5.3,8.2],[4.8,7.1],[3.2,6.3],[2.2,4.5],[1.3,2.3],[0.5,0.7],[3.3,1.2],
[8,12.5],[8.4,13],[9.2,12.5],[10,13.6],[10.8,13.5],[11.5,13.4],[12.3,13],[13.2,13.5],[14,12.9],[15,13.4],[16,13],[17.2,13.8],[18.6,13.3],[19,12.3],[20.2,13.3],[21.3,12.4],[22.5,12],[8.6,11.2],[9.4,11],[10.2,11.4],[11,11.2],[11.8,11.6],[12.6,11],[13.4,11.5],[14.2,11.2],[15,10.9],[15.8,11.5],[16.6,10.9],[17.4,11.6],[18.2,10.9],[19,11.2],[20.2,10.5],[21.3,10.7],[22.4,10.1],[23.5,9.7],[24.4,9.9],[7,10.2],[7.8,9.7],[8.6,10],[9.4,9.5],[10.2,10],[11,9.4],[11.8,9.9],[12.6,9.4],[13.4,10],[14.2,9.4],[15,9.9],[15.8,9.3],[16.6,9.9],[17.4,9.2],[18.2,9.7],[19,9],[19.8,8.9],[20.7,9],[21.4,8.6],[22.2,8.9],[23.1,8.2],[6,8.6],[6.8,8],[7.6,8.6],[8.4,8],[9.2,8.4],[10,7.8],[10.8,8.5],[11.6,7.9],[12.4,8.4],[13.2,7.8],[14,8.4],[14.8,7.8],[15.6,8.4],[16.4,7.8],[17.2,8.3],[18,7.6],[18.8,8.1],[19.6,7.3],[20.5,7.4],[21.4,7],[22.1,6.6],[23,6.9],[6.4,7],[7.2,6.4],[8,7],[8.8,6.3],[9.6,6.9],[10.4,6.3],[11.2,6.9],[12,6.3],[12.8,6.9],[13.6,6.3],[14.4,6.9],[15.2,6.3],[16,6.9],[16.8,6.2],[17.6,6.8],[18.4,6.1],[19.2,6.4],[20,5.7],[20.8,5.5],[21.6,5.1],[22.4,4.7],[23.2,4.5],[5.6,5.6],[6.4,5],[7.2,5.5],[8,4.9],[8.8,5.4],[9.6,4.8],[10.4,5.4],[11.2,4.7],[12,5.3],[12.8,4.7],[13.6,5.4],[14.4,4.8],[15.2,5.4],[16,4.7],[16.8,5.3],[17.6,4.7],[18.4,5],[19.2,4.3],[20,4],[20.9,3.7],[21.7,3.5],[7.2,3.9],[8,3.4],[8.8,3.9],[9.6,3.3],[10.4,3.8],[11.2,3.3],[12,3.8],[12.8,3.2],[13.6,3.8],[14.4,3.1],[15.2,3.7],[16,3.2],[16.8,3.7],[17.6,3],[18.4,3.4],[19.2,2.8],[20.3,2.4],[9,2.4],[9.8,2],[10.6,2.4],[11.4,1.9],[12.2,2.5],[13,2],[13.8,2.5],[14.6,1.8],[15.4,2.4],[16.4,1.8],[17.3,2.1],[18.2,1.6],[6.4,1],[8,1.3],[9.5,0.6],[11,0.9],[12.5,0.7],[13.7,1],[14.9,0.5],[5,0.4],[5.8,2.8],[6.5,3.6]];
const fyiCoreD = [[9.4,7.4],[10.2,7.3],[11,7.6],[11.7,7.2],[12.5,7.5],[13.2,7.2],[13.9,7.4],[14.7,7.2],[15.4,7.5],[16.2,7.2],[17,7.3],[8.4,6.1],[9.2,5.9],[10,5.9],[10.8,6],[11.6,5.8],[12.4,5.9],[13.2,5.9],[14,5.8],[14.8,5.9],[15.6,5.9],[16.4,5.8],[17.2,5.8],[18,5.6],[8.4,4.4],[9.2,4.3],[10,4.2],[10.8,4.4],[11.6,4.2],[12.4,4.2],[13.2,4.3],[14,4.2],[14.8,4.2],[15.6,4.2],[16.4,4.2],[17.2,4.2],[18,4],[9.2,2.9],[10,2.9],[10.8,2.9],[11.6,2.7],[12.4,2.9],[13.2,2.7],[14,3.1],[14.8,2.7],[15.6,2.8],[16.6,2.7],[10.2,1.4],[11.6,1.3],[12.8,1.4],[14.2,1.4],[15.3,1.3],[9.2,9.1],[10.4,8.9],[11.2,8.7],[12,8.8],[13,8.9],[13.8,8.8],[14.6,8.9],[15.4,8.8],[16.2,8.6],[17,9],[18,8.6],[9.8,11],[12.2,10.4],[13.8,10.4],[15.4,10.4],[7.6,5.4],[7,4.5],[6.2,6],[5.5,7],[7.6,7.6],[18.9,7],[19.8,6.2],[20.6,6.6],[19,5.4],[18.8,3.8]];
const fyiFillD = [[10.6,6.6],[11.4,6.4],[12.2,6.7],[13,6.5],[13.8,6.7],[14.6,6.5],[15.4,6.7],[16.2,6.5],[17,6.6],[9.4,5.2],[10.2,5.1],[11,5.1],[11.8,5],[12.6,5.2],[13.4,5],[14.2,5.2],[15,5],[15.8,5.3],[16.6,5],[17.4,5.2],[9.8,3.6],[10.6,3.4],[11.4,3.6],[12.2,3.4],[13,3.6],[13.8,3.4],[14.6,3.5],[15.4,3.1],[16.2,3.6],[10.4,2.1],[11.2,2.3],[12,2.1],[12.8,2.4],[13.6,2.1],[14.4,2.3],[15.2,2],[8.8,7],[9.9,8.1],[10.6,7.8],[11.4,8.2],[12.2,7.8],[13,8],[13.8,7.7],[14.6,8.2],[15.4,7.9],[16.2,8.1],[11.4,1.1],[12.9,1.1],[14,0.8],[15,1.3],[10.6,9.7],[12.9,9.7],[14.6,9.6],[16.2,9.6]];
const myiD = [[12.4,25.3],[13.7,16.1],[4.8,15],[4.6,13.1],[1.9,12],[6.3,11.8],[6,11.7],[5.2,11.5],[10.5,11.6],[7.6,11],[9.8,11.2],[4.4,10],[5.4,9.8],[5.5,9.2],[5.4,8.8],[6.7,8.5],[24,8.6],[5.6,8.4],[9.4,9.3],[4,5.8],[4.6,5.7],[3.3,4.7],[3.6,4.3],[4,4],[1.9,3],[5.5,4.5],[6.5,4.9],[7.5,5],[5.2,3.4],[4.9,3.5],[4.5,3],[2.9,3.2],[7.6,6.5],[6.3,6.8],[10,7.2],[19.6,2.6],[15,3.7],[16.4,2.5],[24,2.2],[23.5,0.4],[17.5,0.5],[17.9,0.5],[16,0.3],[14,0.5],[12,0.3],[11.5,0.4],[11,0.7],[12.5,1.1],[12.8,2.2],[13.1,1],[11.2,1.7],[10.4,1],[10,2],[9.6,3],[9,1.2],[8.4,2],[8.2,0.4],[7.5,1.2],[7,2.4],[6.6,0.5],[6.2,1.8],[5.8,1],[5.4,2.4],[5,1.5],[4.8,0.5],[4.5,1.8],[4.2,2.2],[4,1.2],[3.8,2.7],[3.6,1.7],[3.4,0.8],[3.2,2.2],[3,1.4],[2.8,2.6],[2.6,1.7],[2.3,0.7],[2,2.1],[1.8,1.3],[1.5,0.4],[1,1.5],[0.8,0.2],[1.4,0.9],[3.7,3.1],[3.4,3.6],[4.4,0.8],[5.1,2.4],[6.8,3.4],[8,3],[12.5,4.1],[12.2,3.4],[11.6,5],[13.5,0.9],[15.3,0.8],[14.4,2.7],[10.7,3.3],[9.2,2.6]];
const myiCoreD = [[3,3],[3.3,2.6],[3.6,2.3],[3.9,1.9],[4.2,2.9],[4.6,2.4],[4.9,1.9],[3.1,1.8],[3.5,1.3],[4,0.6],[4.4,1.3],[2.6,2.3],[2.8,0.9],[2.2,1.6],[5.3,1.2],[5.6,1.8],[6,2.6],[4.1,3.5],[4.7,4.2],[5.2,4.9],[5.9,4.1],[6.3,3.2],[7.2,1.6],[7.7,0.7]];

const fyiE = [[8.2,50],[21,49.9],[17,50],[25.5,48],[27,47.7],[10.1,48],[12.4,47.8],[8,47.4],[16.2,47.7],[19.3,47],[14.8,46.5],[16.5,46.6],[4.1,45.8],[21.6,45.7],[24.3,45.7],[16.2,44.8],[16.7,45],[4.2,44.2],[18.3,44.1],[39,44.5],[41.3,44],[14.6,43],[17,43.2],[19.8,42.9],[21,43.4],[23,43.6],[30.5,42.7],[16.3,42.1],[11.1,41.6],[8.5,41.2],[8.3,40.6],[22.4,41.2],[14.1,40.6],[15,41],[15.5,40],[17.4,40.3],[18,40.3],[23.4,40.2],[27.3,40.4],[37.9,40.4],[38.2,40.4],[9,39.5],[11.5,39.5],[31.3,39.5],[13.7,39],[14,38.7],[3.6,38.3],[8.2,38],[9.2,37.7],[11.5,37.7],[8.4,37.2],[8.6,37.3],[22.7,38.6],[24.7,37.8],[20.5,37.8],[23.6,37.2],[24.1,37.3],[26.8,37],[27.9,37.2],[32.5,37.2],[16.1,37],[16.2,36.9],[12.8,36.9],[13,37.2],[18.3,36.7],[19.6,36.5],[20,36],[21.2,36.3],[22,35.8],[23,35.7],[31.7,36.4],[35.9,36.2],[30.2,35.5],[30.6,35.6],[15.3,35.5],[15.2,35.2],[12.9,35.3],[17.8,35.5],[18.9,35.9],[26.4,35.7],[24.4,35.7],[14.2,34.7],[14.7,34.5],[20,34.8],[21.1,34.7],[8.2,34.5],[3.5,34],[9.8,33.2],[10.1,33.8],[13.3,33.8],[14,33.8],[17.2,33.4],[17.8,33.4],[18,33.4],[22,33.4],[25,33.8],[26.2,34.4],[25.5,33.7],[32.8,33.8],[10.5,32.3],[12,32.7],[12.6,32.5],[13,33],[21.8,32.2],[20.5,32.2],[19.5,31.8],[26.5,32.6],[26.7,32.5],[31.4,31.6],[12.2,31.3],[14.6,31.5],[15,31.2],[18.1,31.6],[19,31.9],[21.4,31.2],[23.4,31.6],[24.4,30.4],[13.8,30.9],[16.3,30.5],[17.1,30.3],[19,30.6],[26.7,30.5],[9,30.8],[4.8,30.5],[12.1,30],[14.7,30.2],[15.3,29.5],[16.8,29.7],[19.5,30.3],[21,30],[6.5,29.3],[5.8,28.8],[6.1,27.9],[8,29.2],[27,27.8],[26.7,27.6],[30.3,27.9],[36.9,26.2],[8.6,27.7],[10,29],[10.5,28],[12.5,28.5],[13.3,28.5],[14,28],[15,29],[17.5,28.8],[19.3,27.8],[21.3,28.2],[23.5,27.9],[22.6,27.1],[24.2,26.8],[25,26.9],[25.1,26.3],[25.7,26],[4.8,25.5],[5.4,25.2],[6.5,25.4],[7.2,25.3],[7.7,25.2],[5,24.6],[3.9,23.9],[5.9,24.2],[8.8,25.1],[27,25.2],[27.6,24.5],[25.8,24.1],[26.3,23.4],[3.7,22.5],[5.3,21.6],[7,22.5],[8,22.3],[9,22.3],[5.1,21],[6.2,21.7],[24.5,21.6],[23,22.9],[3.5,20],[3.8,20],[6.5,20.5],[7.3,20.8],[4.6,19.5],[5.2,19.4],[7.5,19.5],[26.6,20.4],[28,21.1],[28.5,20.9],[29,21.3],[29.4,20],[26.3,18.6],[26.5,17.6],[28.9,18.3],[29.3,19],[30.3,18],[31.3,19.2],[34,18],[35.6,18.5],[46.5,21.3],[24.6,17.2],[24.5,16.4],[28,16.5],[1.7,16.2],[27,15.1],[27.2,15.1],[25.3,15.2],[24.2,14.9],[25.3,13.9],[28.9,14.8],[28.4,14.2],[28.5,12.4],[29.9,11.9],[23.5,10.7],[21.2,11.3],[21.5,10.9],[19.6,10.2],[20.1,10.1],[20.9,8.9],[21.5,9.3],[18.5,8.6],[19.1,8.4],[19.5,7],[20.2,6],[22.1,5.1],
[9,26],[10,26.5],[11,26],[12,25.5],[13,26],[14,25.5],[15,26.2],[16,25.5],[17,26.5],[18,25.8],[19,25.8],[20,26],[21,25.3],[22,24.5],[23.3,24.2],[10,24],[11,23.5],[12,24.2],[13,23.6],[14,24.3],[15,23.5],[16,24],[17,23.5],[18,24],[19,23.5],[20,24],[21,23],[22,22.5],[9.5,22],[10.5,21.7],[11.5,22.2],[12.5,21.6],[13.5,22.2],[14.5,21.5],[15.5,22],[16.5,21.5],[17.5,22],[18.5,21.3],[19.5,21.9],[20.5,21],[21.7,21],[23,20.7],[8.5,20.4],[9.5,20],[10.5,20.3],[11.5,19.7],[12.5,20.3],[13.5,19.7],[14.5,20.2],[15.5,19.7],[16.5,20],[17.5,19.5],[18.5,20],[19.5,19.2],[20.7,19.7],[22,19.5],[23.3,19.2],[8,18.4],[9,18],[10,18.5],[11,17.9],[12,18.5],[13,17.9],[14,18.4],[15,17.8],[16,18.3],[17,17.6],[18,18],[19,17.3],[20.2,17.7],[21.4,17.1],[22.4,16.9],[6.5,16.7],[7.5,16.2],[8.5,16.7],[9.5,16.1],[10.5,16.6],[11.5,16],[12.5,16.5],[13.5,15.9],[14.5,16.4],[15.5,15.8],[16.5,16],[17.5,15.4],[18.7,15.5],[20,15.2],[5.3,15.2],[6,14.4],[7,14.8],[8,14.2],[9,14.7],[10,14.1],[11,14.6],[12,14],[13,14.6],[14,14],[15,14.5],[16,13.9],[17,13.7],[18,14],[5,13],[6,12.6],[7,13],[8,12.4],[9,12.9],[10,12.4],[11,12.8],[12,12.2],[13,12.7],[14,12.1],[15,12.6],[16,12],[17,12.2],[18,11.7],[4.5,11],[5.5,10.6],[6.5,11],[7.5,10.5],[8.5,11],[9.5,10.4],[10.5,10.8],[11.5,10.2],[12.5,10.8],[13.5,10.2],[14.5,10.6],[15.5,10],[16.5,9.8],[18,9.5],[3.5,9],[4.5,8.8],[5.5,8.4],[6.5,8.9],[7.5,8.4],[8.5,8.8],[9.5,8.3],[10.5,8.7],[11.5,8.4],[12.5,8.6],[13.5,8],[14.5,8.5],[15.5,8],[16.6,7.5],[3,7],[4,6.5],[5,6.8],[6,6.3],[7,6.8],[8,6.3],[9,6.7],[10,6.2],[11,6.6],[12,6],[13,6.7],[14,6.2],[15,6.7],[16,5.3],[17,6.3],[18,6.5],[2,5],[3,4.2],[4,4.8],[5,4.4],[6,4.9],[7,4.3],[8,4.8],[9,4.2],[10,4.5],[11,4],[12,3.3],[13,4.2],[14,5],[15,5],[0.6,6],[1.6,4.5],[2.2,7],[2.7,3.2],[3.5,2.4],[4.2,1.5],[4.8,2.2],[5.5,1.5],[6.4,3],[7.2,2.4],[8.4,2.8],[9.6,1.7],[10,1.3],[12.1,2.8],[13,2.7]];
const fyiCoreE = [[10.5,25],[11.6,24.9],[12.6,24.9],[13.6,24.8],[14.6,25],[15.6,24.9],[10.6,22.9],[11.6,23],[12.6,22.8],[13.6,23],[14.6,22.7],[15.6,23.1],[16.6,22.8],[17.6,23],[10,21],[11,21],[12,20.9],[13,21],[14,20.9],[15,20.8],[16,20.8],[17,20.7],[18,20.7],[19,20.5],[9,19.2],[10,19.4],[11,18.9],[12,19.1],[13,19],[14,19],[15,18.9],[16,19.1],[17,18.7],[18,18.9],[19,18.5],[20,18.7],[7.5,17.3],[8.5,17.4],[9.5,17.2],[10.5,17.4],[11.5,17.2],[12.5,17.4],[13.5,17],[14.5,17.2],[15.5,17],[16.5,17.1],[17.5,16.7],[7,15.4],[8,15.4],[9,15.4],[10,15.3],[11,15.4],[12,15.1],[13,15.3],[14,15.2],[15,15.2],[16,15],[17,15],[6.5,13.9],[7.5,13.6],[8.5,13.7],[9.5,13.5],[10.5,13.5],[11.5,13.4],[12.5,13.4],[13.5,13.4],[14.5,13.4],[15.5,13.2],[16.5,13],[5.5,11.8],[6.5,11.9],[7.5,11.6],[8.5,11.9],[9.5,11.5],[10.5,11.6],[11.5,11.4],[12.5,11.6],[13.5,11.4],[14.5,11.4],[15.5,11],[5,9.7],[6,9.6],[7,9.7],[8,9.6],[9,9.6],[10,9.4],[11,9.5],[12,9.4],[13,9.3],[14,9.3],[5,7.6],[6,7.5],[7,7.5],[8,7.5],[9,7.4],[10,7.4],[11,7.4],[12,7.3],[13,7.4],[4.5,5.6],[5.5,5.6],[6.5,5.5],[7.5,5.4],[8.5,5.5],[9.5,5.4],[10.5,5.3],[12,5.2]];
const fyiFillE = [[11,27],[12,27.2],[13,26.8],[14,27],[15,27.2],[16,27],[11.4,24.2],[12.4,24],[13.4,24.3],[14.4,24],[15.4,24.2],[16.4,24.8],[11,22.7],[12,23.1],[13,22.6],[14,23.1],[15,22.6],[16,22.6],[17,22.4],[10.4,20.9],[11.4,20.8],[12.4,20.8],[13.4,20.8],[14.4,20.9],[15.4,20.9],[16.4,20.8],[9.6,19],[10.6,19],[11.6,18.9],[12.6,19],[13.6,18.9],[14.6,18.9],[15.6,18.9],[16.6,18.8],[8.8,17.2],[10,17.2],[11,17.2],[12,17.1],[13,17.2],[14,17.1],[15,17.1],[16,17],[7.4,15.3],[8.6,15.4],[9.6,15.3],[10.6,15.3],[11.6,15.2],[12.6,15.3],[13.6,15.1],[14.6,15.4],[15.6,15.2],[8,13.5],[9,13.6],[10,13.4],[11,13.6],[12,13.3],[13,13.5],[14,13.3],[15,13.5],[7,11.8],[8,11.6],[9,11.8],[10,11.5],[11,11.6],[12,11.5],[13,11.6],[7.5,9.6],[8.5,9.7],[9.5,9.4],[10.5,9.5],[11.5,9.4]];
const myiE = [[12.4,41.1],[13.7,37.6],[24.1,35.4],[24,33.2],[5.2,29],[6,27.9],[4.8,24.4],[12.4,24.1],[9.3,22.2],[8,21.3],[6,20.1],[12.5,19.3],[8.6,20.6],[2,18.2],[4.7,18.4],[5,19.5],[9,20.6],[10,18.5],[7.9,17.3],[6.3,17],[8.5,16.5],[15,16],[2.1,13.3],[3,14.4],[3.5,14.3],[4.5,15.8],[5.6,15.6],[5.8,14.7],[6.7,14.7],[8,14.5],[13,13.8],[0.9,11.6],[1.8,11],[2.9,10.3],[3.5,11.5],[3.8,11],[4,12.5],[5,13.5],[5.6,12.7],[6.6,12],[7.4,12.6],[7.8,11],[7.2,10.8],[8.2,10.5],[9.5,11.7],[10.4,10.6],[11,11.5],[15,12.2],[15.6,11.7],[16.9,11.1],[17.5,10.6],[19.5,9.7],[14.7,10],[15.5,9.8],[16.3,8.1],[11.5,9.7],[11.7,8.5],[12.5,8.5],[13.2,8],[3.5,9.5],[3.9,8.9],[4.3,9],[3.2,8],[3.7,8],[4,7.5],[4.5,8.5],[5,8],[5.2,7.2],[4.5,6.8],[3.7,6.3],[5.8,6],[6.3,7.2],[6.6,5.7],[7.2,6],[7.8,7],[8.5,6],[9,7.2],[9.7,7],[10.2,7.5],[10.5,6],[11.3,5.5],[11.8,6.5],[12.6,5.5],[14.2,4.9],[16,6.3],[17.8,3.4],[23.6,2.3],[2.4,4.5],[2,3.2],[2.5,3.2],[2.9,4.2],[3.3,3.5],[3.6,2.5],[4.4,3.6],[5,2.7],[5.6,4],[6.8,3.6],[7.2,4.6],[8.2,4.6],[8.8,3.5],[9.4,5],[13,3.6],[13.3,2.9],[11.5,4],[0.8,0.9],[0.7,0.5],[4.8,1.4],[5.6,1.3],[7.2,1],[8.4,1.8]];
const myiCoreE = [[3.3,8.8],[3.6,7.2],[4.1,8.2],[4.4,9.8],[4.8,7.7],[3.4,6.8],[3,5.4],[3.9,5.9],[4.6,5.2],[5.3,5.7],[6,5.1],[6.6,6.6],[7.4,5.5],[8,5.2],[7.1,8],[6.4,8.6],[5.7,9.4],[5.2,10.4],[6.3,10.2],[7,11.4],[4.6,11.5],[5.5,11.2],[6.1,13],[6.9,13.4],[7.6,8.8],[8.4,8.9]];

const fyiF = [[7.7,48.3],[26.3,47.9],[8.3,45],[16.5,46.4],[20.9,42.3],[37.7,42.9],[39.1,38.1],[41.5,40.6],[10,39.2],[19.2,39],[27.9,39.4],[30.2,39.9],[16.6,37.6],[24.5,37.7],[25.7,38.2],[22.9,36.8],[19,36.9],[11.6,36.7],[12.5,36.5],[16.8,36.6],[16.4,36.1],[19.7,36.1],[17.4,35.5],[41.5,35.7],[43.1,34.9],[14.4,34.2],[14.6,34],[19.5,34],[21.7,34.4],[22.6,33.3],[16.1,33.2],[16.4,33.4],[17.3,33.1],[3.5,33],[4,33],[4.2,32.8],[37.6,31.8],[38.1,30.8],[20.9,31.4],[29.7,31.8],[11.6,30.6],[15.1,30.5],[26.4,30.9],[23.4,30.8],[8.2,30.1],[16.2,30],[19.2,30.3],[20,30.1],[31.8,29.8],[35.3,29.4],[13.7,29.5],[15.1,29.2],[15.7,29.1],[16,28.9],[18,29.3],[23.2,29.3],[24.1,29],[24.2,28.5],[20.9,29.2],[21.9,29.3],[19.5,28.4],[20,27.9],[13.4,28.3],[16.9,27.9],[17.2,27.6],[17.8,28],[19.4,27.9],[8,26.8],[8.4,27],[11,27.4],[11.6,27.1],[18.1,27],[18.6,27.2],[20.3,26.8],[21.6,27.2],[22.3,27.2],[23,27],[32.8,27.2],[6.5,25.9],[8.2,25.7],[8.8,26.1],[9.2,25.8],[11.3,26.1],[13,26.4],[14.8,26.5],[16.9,26.1],[19.7,25.7],[20,26.4],[24.7,26.2],[26.7,26.4],[30.3,26.1],[31.4,26.6],[4.8,24.2],[8.2,24.4],[8.5,25],[9.2,25.1],[10,25.5],[9.8,24.4],[10.5,24.2],[11.2,24],[12.6,25.3],[14,25.7],[14.7,25.2],[16.2,25.3],[20.6,25.3],[21.3,25.4],[24.7,25.1],[27.8,25.1],[30.1,24.8],[30.6,25],[12.7,24.4],[14.4,23.7],[13.8,23.7],[16.9,24],[17.8,24],[25.7,23.8],[26.2,24.2],[26.4,23.7],[6.5,22.4],[3.5,22.1],[7.3,22.2],[32.8,22.2],[26.6,21.8],[27.2,22.6],[27,22],[27.8,21.4],[2.3,11],[2.6,10.9],[2.9,10],[3.9,10.7],[4,18.6],[3.8,17.9],[3.5,17.5],[4.8,18],[5.1,19.2],[6,20],[6.6,20.5],[7.4,20.5],[8,19.8],[6,18],[6,17.4],[7.3,17.2],[8,17.2],[4.8,16.7],[5.6,16],[30,19.9],[30.3,19.9],[27,19.5],[27,19],[26.1,18.9],[25.7,18.3],[26.4,16.6],[25.4,16.1],[26.2,15],[24.5,15.5],[24.8,14.6],[27.9,15.6],[28.4,16.1],[29.3,16.1],[35.5,16.2],[34,15.2],[36.9,15.6],[30.3,14],[31.3,13.6],[28.9,13.6],[29,13],[28,11.8],[28.5,11.9],[29.1,12.2],[28.9,10.9],[26.4,12.2],[24.6,11.5],[25,11.3],[25.4,11.4],[27,10.4],[27.4,9.9],[25.4,9.6],[30,9.5],[28.4,8.7],[46.5,12.7],[23.4,7.7],[21,8.9],[21.3,8.3],[21.6,7.7],[22.2,4],[20,3.9],[20.3,6],[19.3,5],[19.7,5.2],[19.5,8.8],[19.8,8.9],[18.7,7],[1.1,2.2],[0.5,4.2],[1.3,3.4],[2.1,3],[2,1],[4,0.4],[6.2,1.6],[8,0.8],[9.9,0.6],[12.2,1],[14.8,2.5],[16.5,4.2],[17,4.5],[17.5,3.9],
[9,22],[10,22.5],[11,21.6],[12,21.8],[13,21.2],[14,21.8],[15,21.3],[16,21.7],[17,21],[18,21.3],[19,21],[20,21.6],[21,21.2],[22,20.6],[23,20.5],[24,20.3],[25,19.5],[7.5,19.8],[9,19.3],[10,20.4],[11,19.7],[12,20.3],[13,19.6],[14,20.2],[15,19.5],[16,19.9],[17,19.3],[18,19.7],[19,19],[20,19.4],[21,19],[22,18.6],[23,19],[24,18.2],[8.5,18],[9.5,18.2],[10.5,17.8],[11.5,18.4],[12.5,17.8],[13.5,18.3],[14.5,17.7],[15.5,18.2],[16.5,17.6],[17.5,18],[18.5,17.4],[19.5,17.8],[20.5,17.2],[21.5,17.4],[22.5,16.7],[23.5,17],[7,15.9],[8,15.4],[9,16],[10,16.4],[11,15.9],[12,16.4],[13,15.9],[14,16.3],[15,15.7],[16,16.2],[17,15.6],[18,16],[19,15.4],[20,15.8],[21,15.4],[22,15.6],[23,15.3],[24,15],[6,14.5],[7,14],[8,14.4],[9,13.9],[10,14.5],[11,14.9],[12,14.3],[13,14.8],[14,14.2],[15,14.8],[16,14.1],[17,14.5],[18,13.8],[19,14.2],[20,13.7],[21,14],[22,13.6],[23.5,14],[5,13.5],[6,12.8],[7,13],[8,12.4],[9,12.9],[10,12.5],[11,13],[12,12.6],[13,13.1],[14,12.5],[15,13],[16,12.3],[17,12.8],[18,12.1],[19,12.4],[20,11.8],[21,12.2],[22,11.5],[3.5,12.6],[4.5,12],[5.5,11.2],[6.5,11.5],[7.5,11],[8.5,11.5],[9.5,11],[10.5,11.4],[11.5,10.9],[12.5,11.4],[13.5,10.9],[14.5,11.2],[15.5,10.7],[16.5,11],[17.5,10.4],[18.5,10.6],[19.5,10],[3,9.3],[4,9.6],[5,9.7],[6,9.2],[7,9.7],[8,9.2],[9,9.7],[10,9.2],[11,9.6],[12,9.1],[13,9.5],[14,9],[15,9.4],[16,8.8],[17,8.5],[18,8.8],[3,7.5],[4,7.2],[5,7.8],[6,7.4],[7,7.8],[8,7.3],[9,7.7],[10,7.2],[11,7.6],[12,7],[13,7.4],[14,7],[15,6.8],[16,7.3],[17,6.8],[2.4,5.7],[3.4,5.1],[6,6],[7,5.5],[8,5.8],[9,5.3],[10,5.7],[11,5.2],[12,5.6],[13,5.1],[14,5.6],[15,5],[16,5.5],[3,3.5],[4,3.7],[5,3.2],[6,3.8],[7,3.3],[8,3.8],[9,3.2],[10,3.7],[11,3.3],[12,3.7],[13,3.3],[14,3.5],[15,4.2],[4.5,1.9],[5.5,2.5],[6.6,2],[7.4,1.6],[8.5,2.4],[9.5,1.9],[10.5,2.6],[11.5,2.2],[13,1.8]];
const fyiCoreF = [[10.5,19],[11.5,19],[12.5,19.1],[13.5,19],[14.5,19],[15.5,19],[16.5,18.8],[17.5,18.9],[18.5,18.7],[10,17.2],[11,17],[12,17.2],[13,17],[14,17.2],[15,16.9],[16,17],[17,16.8],[18,16.9],[19,16.6],[20,16.8],[9.5,15.2],[10.5,15.4],[11.5,15.4],[12.5,15.3],[13.5,15.4],[14.5,15.2],[15.5,15.2],[16.5,15.1],[17.5,15],[18.5,14.9],[19.5,14.9],[8.5,13.4],[9.5,13.5],[10.5,13.7],[11.5,13.5],[12.5,13.6],[13.5,13.5],[14.5,13.6],[15.5,13.5],[16.5,13.5],[17.5,13.3],[18.5,13],[7.5,12.2],[8.5,12.2],[9.5,12],[10.5,12.1],[11.5,12],[12.5,12.2],[13.5,12],[14.5,12],[15.5,11.9],[16.5,12],[17.5,11.7],[6.5,10.4],[7.5,10.2],[8.5,10.4],[9.5,10.3],[10.5,10.3],[11.5,10.2],[12.5,10.3],[13.5,10],[14.5,10.2],[15.5,9.8],[16.5,9.7],[5.5,8.6],[6.5,8.5],[7.5,8.5],[8.5,8.5],[9.5,8.4],[10.5,8.4],[11.5,8.4],[12.5,8.3],[13.5,8.3],[14.5,8.1],[6.5,6.7],[7.5,6.6],[8.5,6.6],[9.5,6.5],[10.5,6.4],[11.5,6.4],[12.5,6.3],[13.5,6.3],[5.5,4.8],[6.5,4.6],[7.5,4.6],[8.5,4.6],[9.5,4.5],[10.5,4.5],[11.5,4.5],[12.5,4.4]];
const fyiFillF = [[11,18.4],[12,18.9],[13,18.4],[14,18.9],[15,18.4],[16,18.7],[17,18.3],[10.5,16.6],[11.5,16.5],[12.5,16.6],[13.5,16.6],[14.5,16.4],[15.5,16.5],[16.5,16.5],[17.5,16.5],[10,15.1],[11,15.2],[12,15.1],[13,15.2],[14,15.2],[15,15.1],[16,15],[17,15],[9,13.1],[10,13.2],[11,13.7],[12,13.5],[13,13.6],[14,13.4],[15,13.7],[16,13.4],[17,13.4],[8,12.7],[9,12.3],[10,12],[11,12.1],[12,12],[13,12.2],[14,12],[15,12],[16,11.9],[7,10.7],[8,10.4],[9,10.5],[10,10.5],[11,10.4],[12,10.3],[13,10.4],[14,10.2],[15,10.1],[6,8.6],[7,8.6],[8,8.7],[9,8.6],[10,8.5],[11,8.5],[12,8.4],[13,8.4],[6.5,7.4],[7.5,7.5],[8.5,7.2],[9.5,7.4],[10.5,7.3],[11.5,7.2],[6.5,5.2],[7.5,5.1],[8.5,5],[9.5,5],[10.5,5]];
const myiF = [[12.4,34.6],[13.5,29.1],[24.1,22.5],[24,21.2],[6,21.1],[5,20.3],[5.3,20.4],[8.7,16.3],[2,15.2],[9.4,16.6],[4.6,15.7],[5,14.7],[6.2,15],[9.7,14.9],[12.6,15],[10.2,14.1],[6,13.8],[5.6,13.1],[4.4,12.8],[8,13.4],[10.5,13],[5.6,11.9],[5.4,11.5],[6.5,12],[3.4,11.4],[15.6,11],[15,11.2],[16.5,8.8],[16.9,8.8],[17.3,7.2],[2.9,9.3],[3.3,9.2],[4,9.4],[5,9.6],[6,9.2],[7.8,9.7],[8,8.8],[9,8.6],[8,8],[12.5,9.6],[13.1,9.5],[10.7,8.5],[11.2,8.5],[12.7,7.9],[0.9,7.8],[1.9,7.5],[2.1,7.9],[2.9,7.5],[3.5,7.4],[4,7.7],[4.5,8],[5,8.2],[5.5,7.8],[6,7.4],[6.8,7.2],[7.2,7.8],[2,5.2],[3,6.4],[3,6],[3.5,5.8],[3.8,6.2],[4.2,5.6],[4.5,6.8],[5,5.5],[5.5,5.8],[6,5.7],[6.5,6],[7,5.4],[7.7,5.5],[8.4,6],[9.5,6],[10,6.3],[11.5,6.2],[12,6],[3.4,4.8],[3.8,5],[4.6,5],[5,4.7],[5.6,4.6],[6.3,4.9],[2.7,4],[3,3.9],[3.5,4],[4,4.2],[4.8,4],[5.5,3.6],[6,3.5],[6.5,3.6],[7.6,4.2],[8.4,3.8],[9,4],[9.6,4],[11.2,5],[11.6,4.6],[12.4,4.6],[14.5,3.1],[15.9,4.9],[15.3,4],[19.5,5.8],[1.3,2.9],[2.2,2.2],[3,2.3],[3.5,2.9],[4.2,2.7],[5,2.5],[5.7,3],[6.8,2.3],[8,2.5],[9.2,2.5],[10,2.2],[12,1.8],[13.1,2.3],[13.5,2.8],[17.8,2.1],[23.6,1.3],[0.9,0.7],[0.7,0.1],[2,0.9],[3.5,0.6],[4.6,1],[5.7,0.9],[7.3,0.6],[8.4,1.3],[9.3,1]];
const myiCoreF = [[3.2,5.3],[3.6,6.7],[4,5.2],[4.3,6.2],[4.7,6],[5.1,6.4],[5.4,5.2],[5.8,6.4],[6.3,5.4],[6.7,6.6],[3.4,4.4],[4.4,4.5],[5.2,3.9],[6.2,4.2],[7,4.7],[7.2,3.4],[8,3.4],[4.4,7.2],[3.7,8.3],[5.7,8.8],[6.6,8.4],[7.4,8.8]];

// ----- assembly of marks through the axis functions -----
const panelKeys = ["a", "b", "c", "d", "e", "f"];
const panelLefts = [119, 801, 1481.5, 119, 801, 1481.5];
const panelTops = [55, 55, 55, 808.3, 808.3, 808.3];
const PLOT_W = 557.5, PLOT_H = 540.7, DOMAIN = 50;
const fyiSets = [fyiA.concat(fyiCoreA), fyiB.concat(fyiCoreB, fyiFillB), fyiC.concat(fyiCoreC, fyiFillC), fyiD.concat(fyiCoreD, fyiFillD), fyiE.concat(fyiCoreE, fyiFillE), fyiF.concat(fyiCoreF, fyiFillF)];
const myiSets = [myiA.concat(myiCoreA, myiFillA), myiB.concat(myiCoreB, myiFillB), myiC.concat(myiCoreC), myiD.concat(myiCoreD), myiE.concat(myiCoreE), myiF.concat(myiCoreF)];
const labelDrop = [1, 10, 9, 9, 9, 18];
const SVGNS = "http://www.w3.org/2000/svg";
const FYI_COLOR = "#ff7f00", MYI_COLOR = "#6a3d9a";

function mk(tag, attrs) {
  const el = document.createElementNS(SVGNS, tag);
  for (const k in attrs) el.setAttribute(k, attrs[k]);
  return el;
}

const defsEl = document.getElementById("clips");
const strayClip = mk("clipPath", { id: "stray" });
strayClip.appendChild(mk("rect", { x: 222, y: 1400, width: 11, height: 45 }));
defsEl.appendChild(strayClip);

panelKeys.forEach(function (key, i) {
  const g = document.getElementById("panel-" + key);
  const x0 = panelLefts[i], yTop = panelTops[i];
  const sx = function (v) { return x0 + v * PLOT_W / DOMAIN; };
  const sy = function (v) { return yTop + PLOT_H - v * PLOT_H / DOMAIN; };

  const clip = mk("clipPath", { id: "clip-" + key });
  clip.appendChild(mk("rect", { x: x0, y: yTop, width: PLOT_W, height: PLOT_H }));
  defsEl.appendChild(clip);

  const marks = mk("g", { "clip-path": "url(#clip-" + key + ")" });
  
  
  g.appendChild(marks);

  fyiSets[i].forEach(function (p) {
    const c = mk("circle", { cx: sx(p[0]), cy: sy(p[1]), r: 4.6, fill: FYI_COLOR });
    
    
    marks.appendChild(c);
  });
  myiSets[i].forEach(function (p) {
    const c = mk("circle", { cx: sx(p[0]), cy: sy(p[1]), r: 4.4, fill: MYI_COLOR });
    
    
    marks.appendChild(c);
  });

  const ref = mk("line", { x1: sx(0), y1: sy(0), x2: sx(49.2), y2: sy(49.2), stroke: "#8c8c8c", "stroke-width": 3.5, "stroke-dasharray": "21 13" });
  
  
  marks.appendChild(ref);

  const fitF = mk("line", { x1: sx(0), y1: sy(fyiIntercepts[i]), x2: sx(DOMAIN), y2: sy(fyiSlopes[i] * DOMAIN + fyiIntercepts[i]), stroke: FYI_COLOR, "stroke-width": 4.2 });
  
  
  marks.appendChild(fitF);

  const fitM = mk("line", { x1: sx(0), y1: sy(myiIntercepts[i]), x2: sx(DOMAIN), y2: sy(myiSlopes[i] * DOMAIN + myiIntercepts[i]), stroke: MYI_COLOR, "stroke-width": 4.2 });
  
  
  marks.appendChild(fitM);

  // frame and ticks
  const frame = mk("rect", { x: x0, y: yTop, width: PLOT_W, height: PLOT_H, fill: "none", stroke: "#000", "stroke-width": 3 });
  
  
  g.appendChild(frame);

  const ticks = mk("g", { stroke: "#000", "stroke-width": 3 });
  
  
  g.appendChild(ticks);
  function tickSet(values, len) {
    values.forEach(function (v) {
      const yb = yTop + PLOT_H;
      const xr = x0 + PLOT_W;
      ticks.appendChild(mk("line", { x1: sx(v), x2: sx(v), y1: yb, y2: yb + len }));
      ticks.appendChild(mk("line", { x1: sx(v), x2: sx(v), y1: yTop, y2: yTop - len }));
      ticks.appendChild(mk("line", { x1: x0, x2: x0 - len, y1: sy(v), y2: sy(v) }));
      ticks.appendChild(mk("line", { x1: xr, x2: xr + len, y1: sy(v), y2: sy(v) }));
    });
  }
  tickSet(majorTicks, 12);
  tickSet(minorTicks, 6);

  majorTicks.forEach(function (v, t) {
    const xl = mk("text", { class: "tick", x: sx(v) + (t ? 1 : 0), y: yTop + PLOT_H + 50, "text-anchor": "middle" });
    
    
    xl.textContent = tickLabels[t];
    g.appendChild(xl);
    const yl = mk("text", { class: "tick", x: x0 - 22, y: sy(v) + labelDrop[t], "text-anchor": "end" });
    
    
    yl.textContent = tickLabels[t];
    g.appendChild(yl);
  });
});

// panel (a)'s last x tick label is cut off in the source figure
const cover = mk("rect", { x: 688, y: 615, width: 12, height: 45, fill: "#fff" });


document.getElementById("panel-a").appendChild(cover);
</script>
</body>
</html>
